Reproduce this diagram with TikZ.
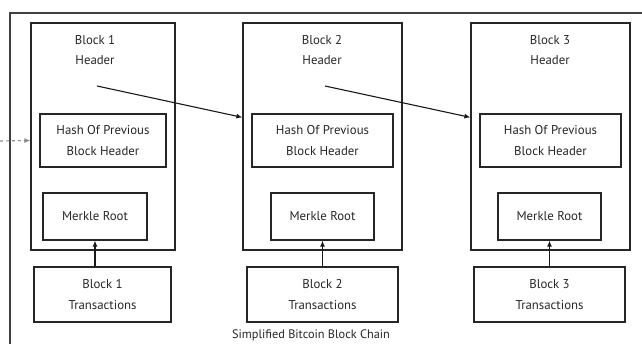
\documentclass[tikz,border=0pt]{standalone}
\usepackage{fontspec}
\setmainfont{PT Sans}
\usetikzlibrary{arrows.meta,calc}
\tikzset{
  box/.style={draw=black!85,line width=1.2pt,inner sep=0pt,minimum height=#1},
  box/.default=53pt,
  txt/.style={align=center,font=\fontsize{12.8}{20.5}\selectfont,text=black!85},
  link/.style={line width=1.1pt,draw=black!90,-{Latex[length=6pt,width=5pt]}}
}

\begin{document}
\begin{tikzpicture}[x=1pt,y=-1pt]
			%%%%% START %%%%%
			\useasboundingbox (0,0) rectangle (642,344);
			\draw[line width=1.4pt,black!75] (10,350) -- (10,13) -- (650,13);
			
			% block 1
			\node[box=227pt,minimum width=144pt] (hdr1) at (103,136.5) {};
			\node[txt] (htxt1) at (95,50) {Block 1\\Header};
			\node[box,minimum width=126pt,txt] (hash1) at (103,140.5) {Hash Of Previous\\Block Header};
			\node[box=47pt,minimum width=104pt,txt] (merkle1) at (95,216.5) {Merkle Root};
			\node[box=55pt,minimum width=137pt,txt] (trans1) at (102.5,294.5) {Block 1\\Transactions};
			
			% block 2
			\node[box=227pt,minimum width=159pt] (hdr2) at (322.5,136.5) {};
			\node[txt] (htxt2) at (322,50) {Block 2\\Header};
			\node[box,minimum width=141pt,txt] (hash2) at (322.5,140.5) {Hash Of Previous\\Block Header};
			\node[box=47pt,minimum width=103pt,txt] (merkle2) at (322.5,216.5) {Merkle Root};
			\node[box=55pt,minimum width=151pt,txt] (trans2) at (322.5,294.5) {Block 2\\Transactions};
			
			% block 3
			\node[box=227pt,minimum width=159pt] (hdr3) at (550.5,136.5) {};
			\node[txt] (htxt3) at (550,50) {Block 3\\Header};
			\node[box,minimum width=141pt,txt] (hash3) at (550.5,140.5) {Hash Of Previous\\Block Header};
			\node[box=47pt,minimum width=103pt,txt] (merkle3) at (549.5,216.5) {Merkle Root};
			\node[box=55pt,minimum width=151pt,txt] (trans3) at (549.5,294.5) {Block 3\\Transactions};
			
			\node[txt,font=\fontsize{12.3}{14}\selectfont] (caption) at (311,335) {Simplified Bitcoin Block Chain};
			
			% links between blocks
			\coordinate (prev) at (0,141);
			\coordinate (tail1) at (97,86);
			\coordinate (tail2) at (325,86);
			\draw[link,draw=black!45,dashed] (prev) -- (hdr1.west |- hash1);
			\draw[link] (tail1) -- ([yshift=-4pt]hdr2.west |- hash2.north);
			\draw[link] (tail2) -- ([yshift=-4pt]hdr3.west |- hash3.north);
			
			% transactions up to merkle root
			\foreach \i in {1,2,3}
			  \draw[link] (trans\i.north -| merkle\i.south) -- (merkle\i.south);
			%%%%% END %%%%%
\end{tikzpicture}
\end{document}
